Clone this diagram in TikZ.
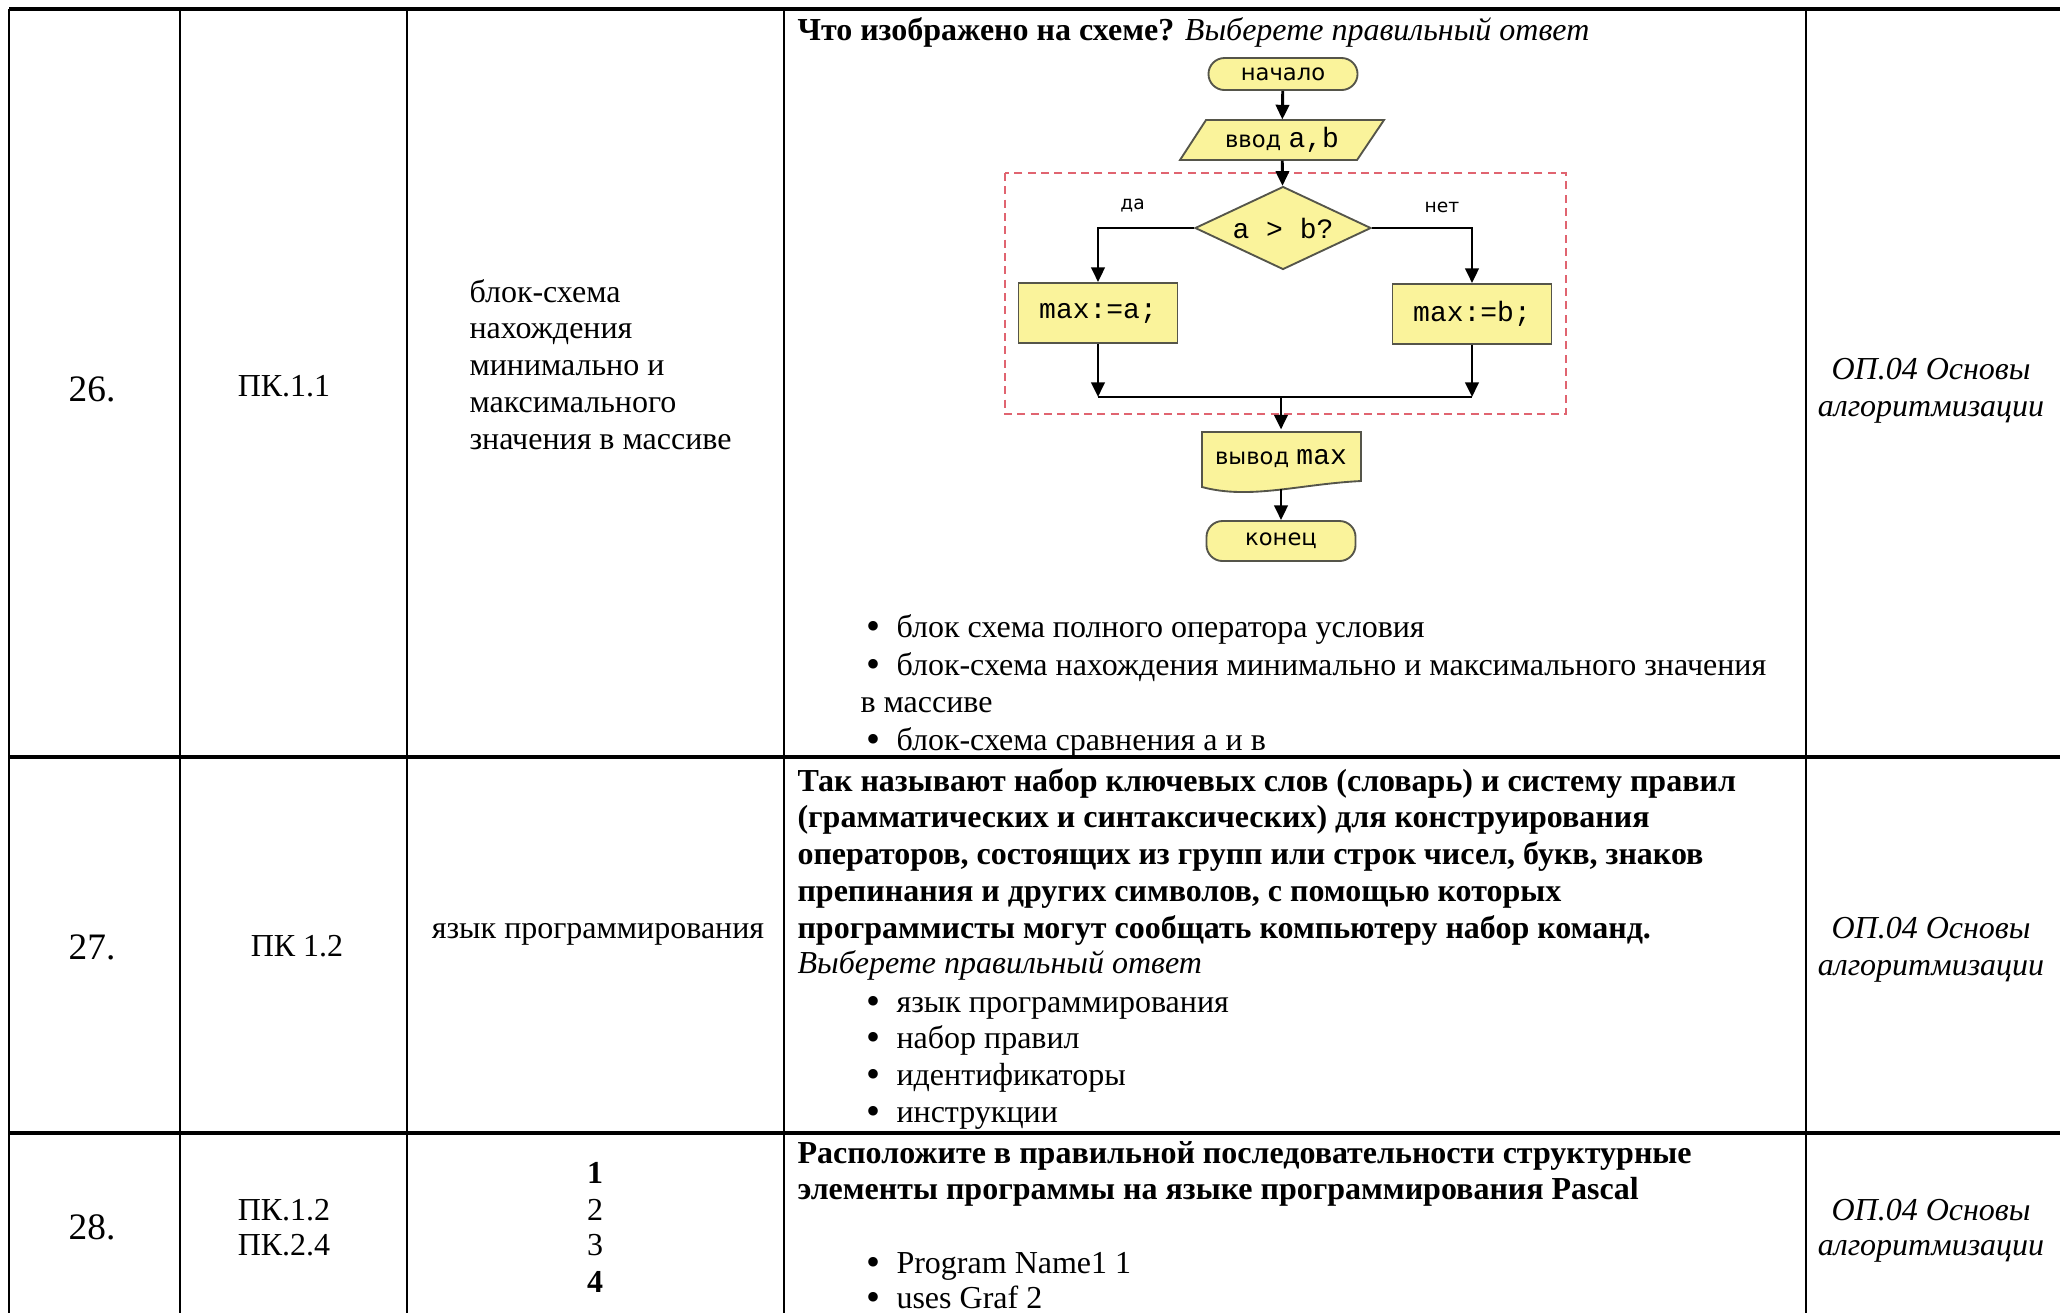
\documentclass[tikz,border=0pt]{standalone}
\usepackage{fontspec}
\setmainfont{Liberation Serif}
\setmonofont{Liberation Mono}
\newfontfamily\flowfont{DejaVu Sans}
\usetikzlibrary{shapes.geometric,arrows.meta,positioning}
\definecolor{flowfill}{HTML}{FAF39B}
\definecolor{flowline}{HTML}{55554A}
\definecolor{framered}{HTML}{E06470}
\newcommand{\flowcode}[1]{{\ttfamily\fontsize{10.5}{12}\selectfont #1}}
\newcommand{\bul}{\raisebox{-1.1pt}{\fontsize{15}{14}\selectfont •}}

\begin{document}
\begin{tikzpicture}[x=0.375pt,y=-0.375pt,
	tab/.style={line width=1pt},
	txt/.style={anchor=base west,inner sep=0pt,font=\fontsize{12}{14}\selectfont},
	mid/.style={anchor=base,inner sep=0pt,font=\fontsize{12}{14}\selectfont},
	num/.style={anchor=base,inner sep=0pt,font=\fontsize{14}{16}\selectfont},
	box/.style={draw=flowline,fill=flowfill,line width=0.7pt,inner sep=0pt,font=\flowfont\fontsize{8.5}{10}\selectfont},
	term/.style={box,rounded corners=6pt,minimum width=55.9pt},
	arr/.style={-{Triangle[length=5.5pt,width=5pt]},line width=1.1pt},
	]
	\useasboundingbox (0,0) rectangle (2060,1313);

	% table grid
	\foreach \y in {9,757,1133} \draw[tab,line width=1.3pt] (9,\y) -- (2060,\y);
	\foreach \x in {9,180,407,784,1806} \draw[tab] (\x,9) -- (\x,1313);

	% row 26
	\node[num] (n26) at (92,401) {26.};
	\node[mid] (k26) at (284,396) {ПК.1.1};
	\foreach \t [count=\i] in {блок-схема, нахождения, минимально и, максимального, значения в массиве}
		\node[txt] at (469,{302+(\i-1)*36.8}) {\t};
	\node[txt] (q26) at (797,40) {\textbf{Что изображено на схеме?} \textit{Выберете правильный ответ}};
	\foreach \t/\yy in {{блок схема полного оператора условия}/637, {блок-схема нахождения минимально и максимального значения}/675, {блок-схема сравнения а и в}/750} {
		\node[txt] at (866,\yy) {\bul};
		\node[txt] at (896,\yy) {\t};
	}
	\node[txt] at (860,712) {в массиве};
	\node[mid] at (1931,379) {\textit{ОП.04 Основы}};
	\node[mid] at (1931,416) {\textit{алгоритмизации}};

	% flowchart
	\draw[framered,line width=0.7pt,dash pattern=on 3pt off 2pt] (1005,173) rectangle (1566,414);
	\node[term,minimum height=12pt] (start) at (1283,74) {начало};
	\draw[box] (1206,120) -- (1384,120) -- (1357,160) -- (1180,160) -- cycle;
	\node[inner sep=0pt,minimum width=66.4pt,minimum height=15pt,font=\flowfont\fontsize{8.5}{10}\selectfont] (inp) at (1282,140) {ввод \flowcode{a,b}};
	\node[box,diamond,aspect=2.1,minimum width=66pt,minimum height=31.1pt] (cond) at (1283,228) {\flowcode{a > b?}};
	\node[box,minimum width=59.6pt,minimum height=22.5pt] (maxa) at (1098,313) {\flowcode{max:=a;}};
	\node[box,minimum width=59.6pt,minimum height=22.5pt] (maxb) at (1472,314) {\flowcode{max:=b;}};
	\draw[box] (1202,432) -- (1361,432) -- (1361,481) .. controls (1300,484) and (1250,500) .. (1202,487) -- cycle;
	\node[inner sep=0pt,minimum width=59.6pt,minimum height=21.75pt,font=\flowfont\fontsize{8.5}{10}\selectfont] (out) at (1281,459) {вывод \flowcode{max}};
	\node[term,minimum height=15pt] (stop) at (1281,541) {конец};

	\coordinate (ja) at (1098,397);
	\coordinate (jb) at (1472,397);
	\coordinate (jm) at (1281,397);

	\draw[arr] (start) -- (inp);
	\draw[arr] (inp) -- (cond);
	\draw[arr] (cond.west) -| node[pos=0.32,above=2pt,font=\flowfont\fontsize{7}{8}\selectfont] {да} (maxa.north);
	\draw[arr] (cond.east) -| node[pos=0.35,above=2pt,font=\flowfont\fontsize{7}{8}\selectfont] {нет} (maxb.north);
	\draw[arr] (maxa) -- (ja);
	\draw[arr] (maxb) -- (jb);
	\draw[line width=1.1pt] (ja) -- (jb);
	\draw[arr] (jm) -- (out);
	\draw[arr] (out.south) -- (stop);

	% row 27
	\node[num] (n27) at (92,959) {27.};
	\node[mid] (k27) at (297,956) {ПК 1.2};
	\node[mid] (t27) at (598,938) {язык программирования};
	\foreach \t [count=\i] in {{Так называют набор ключевых слов (словарь) и систему правил}, {(грамматических и синтаксических) для конструирования}, {операторов, состоящих из групп или строк чисел, букв, знаков}, {препинания и других символов, с помощью которых}, {программисты могут сообщать компьютеру набор команд.}}
		\node[txt,font=\fontsize{12}{14}\selectfont\bfseries] at (797,{791+(\i-1)*36.8}) {\t};
	\node[txt] at (797,973) {\textit{Выберете правильный ответ}};
	\foreach \t/\yy in {{язык программирования}/1012, {набор правил}/1048, {идентификаторы}/1085, {инструкции}/1122} {
		\node[txt] at (866,\yy) {\bul};
		\node[txt] at (896,\yy) {\t};
	}
	\node[mid] at (1931,938) {\textit{ОП.04 Основы}};
	\node[mid] at (1931,975) {\textit{алгоритмизации}};

	% row 28
	\node[num] (n28) at (92,1239) {28.};
	\node[mid] at (284,1220) {ПК.1.2};
	\node[mid] at (284,1255) {ПК.2.4};
	\node[mid] at (595,1183) {\textbf{1}};
	\node[mid] at (595,1220) {2};
	\node[mid] at (595,1255) {3};
	\node[mid] at (595,1292) {\textbf{4}};
	\node[txt,font=\fontsize{12}{14}\selectfont\bfseries] at (797,1163) {Расположите в правильной последовательности структурные};
	\node[txt,font=\fontsize{12}{14}\selectfont\bfseries] at (797,1199) {элементы программы на языке программирования Pascal};
	\node[txt] at (866,1273) {\bul};
	\node[txt] at (896,1273) {Program Name1 1};
	\node[txt] at (866,1308) {\bul};
	\node[txt] at (896,1308) {uses Graf 2};
	\node[mid] at (1931,1220) {\textit{ОП.04 Основы}};
	\node[mid] at (1931,1255) {\textit{алгоритмизации}};
\end{tikzpicture}
\end{document}
